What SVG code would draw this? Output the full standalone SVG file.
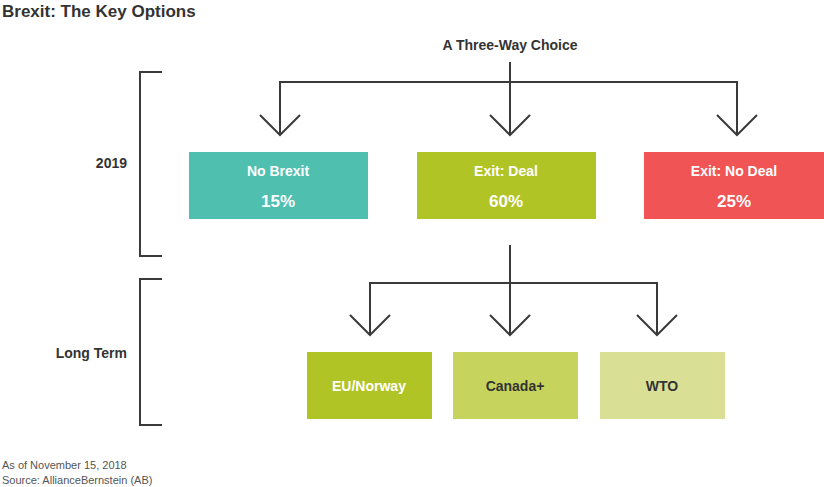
<svg xmlns="http://www.w3.org/2000/svg" width="824" height="487" viewBox="0 0 824 487">
<style>
.t{font-family:"Liberation Sans",Arial,sans-serif;font-weight:bold}
.ln{fill:none;stroke:#3a3a3a;stroke-width:2}
.w{fill:#fff;text-anchor:middle}
.d{fill:#333;text-anchor:middle;font-size:14px}
</style>
<rect width="824" height="487" fill="#fff"/>
<text class="t" x="2" y="17" font-size="17" fill="#333">Brexit: The Key Options</text>
<text class="t" x="510" y="50" font-size="14" fill="#333" text-anchor="middle">A Three-Way Choice</text>
<text class="t" x="127" y="168" font-size="14" fill="#333" text-anchor="end">2019</text>
<text class="t" x="127" y="358" font-size="14" fill="#333" text-anchor="end">Long Term</text>
<g id="connectors" class="ln">
<path d="M162 72H140V256H162M162 279H140V425H162"/>
<path d="M510 62V82M280 135V82H737V135M510 82V135"/>
<path d="M260 115L280 135L300 115M490 115L510 135L530 115M717 115L737 135L757 115"/>
<path d="M510 245V283M370 335V283H657V335M510 283V335"/>
<path d="M350 315L370 335L390 315M490 315L510 335L530 315M637 315L657 335L677 315"/>
</g>
<g id="nobrexit"><rect x="189" y="152" width="179" height="67" fill="#4fc0b0"/><text class="t w" x="278" y="176" font-size="14">No Brexit</text><text class="t w" x="278" y="207" font-size="17">15%</text></g>
<g id="deal"><rect x="417" y="152" width="179" height="67" fill="#b1c425"/><text class="t w" x="506" y="176" font-size="14">Exit: Deal</text><text class="t w" x="506" y="207" font-size="17">60%</text></g>
<g id="nodeal"><rect x="644" y="152" width="180" height="67" fill="#f05454"/><text class="t w" x="734" y="176" font-size="14">Exit: No Deal</text><text class="t w" x="734" y="207" font-size="17">25%</text></g>
<g id="eunorway"><rect x="307" y="352" width="125" height="67" fill="#b1c425"/><text class="t w" x="369" y="391" font-size="14">EU/Norway</text></g>
<g id="canada"><rect x="453" y="352" width="125" height="67" fill="#c6d35c"/><text class="t d" x="515" y="391">Canada+</text></g>
<g id="wto"><rect x="600" y="352" width="125" height="67" fill="#d9e095"/><text class="t d" x="662" y="391">WTO</text></g>
<text x="2" y="469" font-size="11" fill="#555" font-family="Liberation Sans,Arial,sans-serif">As of November 15, 2018</text>
<text x="2" y="484" font-size="11" fill="#555" font-family="Liberation Sans,Arial,sans-serif">Source: AllianceBernstein (AB)</text>
</svg>
